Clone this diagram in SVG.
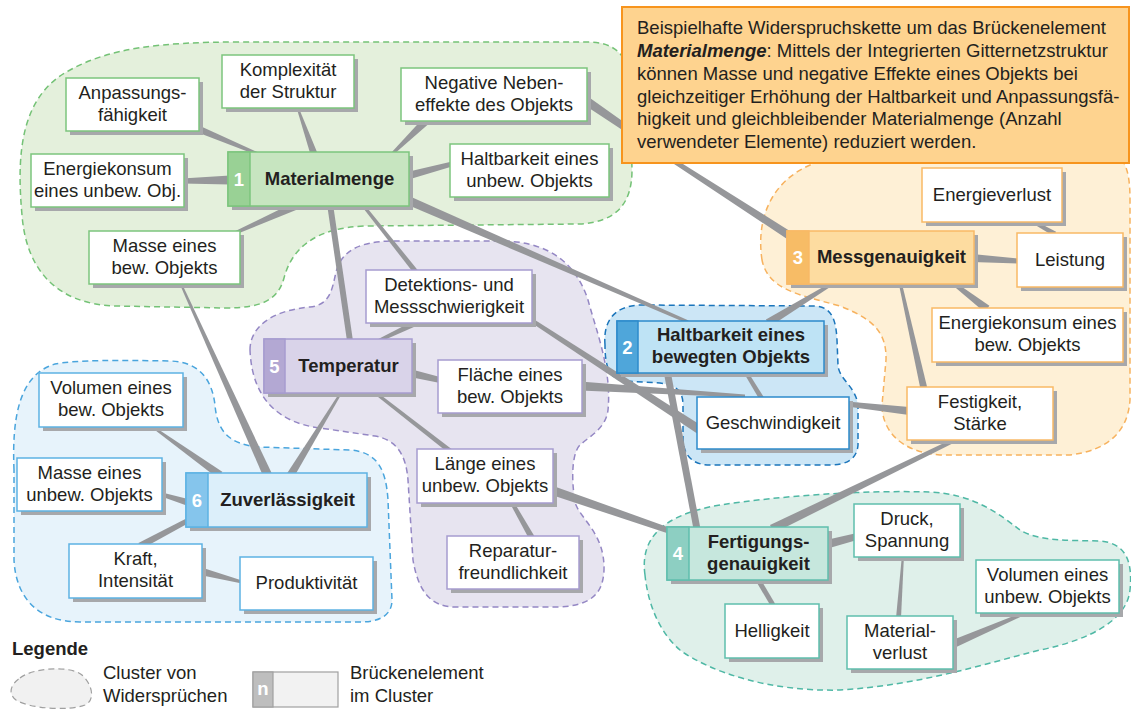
<svg xmlns="http://www.w3.org/2000/svg" width="1131" height="709" viewBox="0 0 1131 709">
  <style>
    .t{font-family:"Liberation Sans",Arial,Helvetica,sans-serif;font-size:18.5px;fill:#231F20;text-anchor:middle}
    .l{text-anchor:start}
    .b{font-weight:bold}
    .num{font-family:"Liberation Sans",Arial,sans-serif;font-size:18.5px;font-weight:bold;fill:#fff;text-anchor:middle}
    .sh{fill:#A7A8AB}
    .con polygon{fill:#96979A}
    .blob{stroke-width:1.5;stroke-dasharray:6 4}
    .c1{fill:#fff;stroke:#7CC57D;stroke-width:1.5}
    .c2{fill:#fff;stroke:#2D8BCB;stroke-width:1.5}
    .c3{fill:#fff;stroke:#F9B966;stroke-width:1.5}
    .c4{fill:#fff;stroke:#5FBEAD;stroke-width:1.5}
    .c5{fill:#fff;stroke:#A79CCF;stroke-width:1.5}
    .c6{fill:#fff;stroke:#5DB2E3;stroke-width:1.5}
  </style>

  <!-- cluster areas -->
  <g id="clusters">
    <path id="cluster-1" class="blob" fill="#E4F0DC" stroke="#74C276" d="M22,215 C16,150 22,95 70,70 C110,48 160,42 240,42 L588,42 C614,42 628,55 630,80 L632,170 C632,205 615,222 580,224 L365,226 C315,228 292,248 284,278 C278,300 262,308 225,308 L115,306 C55,304 26,268 22,215 Z"/>
    <path id="cluster-5" class="blob" fill="#E7E4F0" stroke="#9487C4" d="M250,350 C250,325 275,310 310,307 C330,305 332,290 336,272 C342,250 360,242 390,241 L500,241 C545,241 575,260 588,300 C596,330 612,370 608,410 C606,428 590,436 580,445 C570,455 572,490 576,505 C582,520 605,535 604,570 C603,595 590,605 560,607 L455,607 C430,607 418,590 413,560 L408,480 C406,455 397,440 375,436 L320,428 C280,423 252,400 250,350 Z"/>
    <path id="cluster-6" class="blob" fill="#E7F3FB" stroke="#4AA5DD" d="M14,470 C12,420 18,375 55,364 C75,360 120,360 170,361 C200,362 212,380 215,405 C217,430 228,444 258,447 L350,450 C378,452 386,470 388,500 L392,600 C392,615 380,622 360,622 L80,622 C40,622 16,600 14,560 Z"/>
    <path id="cluster-3" class="blob" fill="#FEF0D6" stroke="#F7B25E" d="M762,260 C756,220 770,180 815,163 L1100,150 C1125,150 1130,170 1130,200 L1130,400 C1128,430 1110,450 1070,455 L940,455 C900,452 882,430 882,405 L886,360 C887,330 870,318 840,306 C800,295 768,290 762,260 Z"/>
    <path id="cluster-2" class="blob" fill="#CCE6F6" stroke="#1B75BB" d="M605,345 C603,320 615,306 640,305 L815,306 C832,307 836,320 837,340 L838,365 C839,380 855,385 858,405 L858,445 C857,460 845,465 830,465 L710,465 C692,465 684,455 683,440 L683,405 C683,390 675,385 660,383 L625,381 C610,380 605,368 605,345 Z"/>
    <path id="cluster-4" class="blob" fill="#DFF0EA" stroke="#4FB8A5" d="M645,575 C640,540 660,515 720,505 C780,496 860,490 930,492 C975,494 1000,515 1020,530 C1040,542 1070,540 1100,541 C1125,543 1133,560 1130,590 C1127,620 1090,640 1040,650 C980,665 920,685 840,690 C770,692 710,672 680,650 C660,633 648,605 645,575 Z"/>
  </g>

  <!-- tapered links between elements -->
  <g id="connectors" class="con">
    <polygon points="194.6,131.2 257.4,155.4 258.6,152.6 197.4,124.8"/>
    <polygon points="296.1,106.3 310.7,155.2 317.3,152.8 297.9,105.7"/>
    <polygon points="425.2,116.1 391,152.9 393,155.1 430.8,121.9"/>
    <polygon points="182,178.5 230,175.5 230,184.5 182,183.5"/>
    <polygon points="452,161.5 407,172 407,180 452,166.5"/>
    <polygon points="235.6,234.4 301.6,207.7 298.4,200.3 234.4,231.6"/>
    <polygon points="179.1,282.4 263.9,477.9 272.1,474.1 180.9,281.6"/>
    <polygon points="327,204 347,341 353,341 333,204"/>
    <polygon points="360.8,205 414,273.6 418,270.4 363.2,203.1"/>
    <polygon points="403.2,203.1 687.4,323.4 688.6,320.6 406.8,194.9"/>
    <polygon points="582.5,103.7 678.6,167.1 787.8,239.4 792.2,232.6 681.4,162.9 587.5,96.3"/>
    <polygon points="834.2,280.7 765.9,319.6 770.1,326.4 835.8,283.3"/>
    <polygon points="972,254 1019,258.5 1019,263.5 972,262"/>
    <polygon points="1029.4,221.4 1053.9,236.3 1056.1,231.8 1030.6,218.6"/>
    <polygon points="951.8,284.6 984.6,312.2 989.4,305.8 954.2,281.4"/>
    <polygon points="898.5,282.3 920.6,389.8 927.4,388.2 901.5,281.7"/>
    <polygon points="954.1,438.2 770,525 774,533 955.9,441.8"/>
    <polygon points="580,381.5 745,394.5 745,397.5 580,390.5"/>
    <polygon points="847,401.5 909,407 909,415 847,406.5"/>
    <polygon points="743.3,372 759.9,400.3 764.1,397.7 746.7,370"/>
    <polygon points="663.6,371.7 693.6,529.7 700.4,528.3 670.4,370.3"/>
    <polygon points="526.9,319.7 697.5,433.8 702.5,426.2 529.1,316.3"/>
    <polygon points="410,369 440,377 440,383 410,377"/>
    <polygon points="378.6,342.4 421.3,323.7 418.7,318.3 377.4,339.6"/>
    <polygon points="372.1,392.2 448.5,453 451.5,449 373.9,389.8"/>
    <polygon points="341.1,390.5 286.6,473.9 293.4,478.1 342.9,391.5"/>
    <polygon points="509.3,502 529.4,539.5 534.6,536.5 512.7,500"/>
    <polygon points="549.5,494.3 669,533.8 671,528.2 552.5,485.7"/>
    <polygon points="149.4,425.8 217.7,478.3 222.3,471.7 150.6,424.2"/>
    <polygon points="160,492 188,499 188,506 160,496"/>
    <polygon points="185.8,518.8 138.4,542.9 141.6,549.1 188.2,523.2"/>
    <polygon points="200,567 242,580.5 242,583.5 200,575"/>
    <polygon points="826,540 857,533 857,540 826,549"/>
    <polygon points="754.9,579.3 770.9,606.3 775.1,603.7 759.1,576.7"/>
    <polygon points="902,555 896,618 901,618 904,555"/>
    <polygon points="952.6,648.7 1025.6,614.4 1024.4,611.6 949.4,641.3"/>
  </g>

  <!-- cluster 1 -->
  <g id="n-anpassung"><rect class="sh" x="70" y="82" width="133" height="53"/><rect class="c1" x="66" y="78" width="133" height="53"/><text class="t"><tspan x="132.5" y="98.5">Anpassungs-</tspan><tspan x="132.5" y="120.5">fähigkeit</tspan></text></g>
  <g id="n-komplexitaet"><rect class="sh" x="226" y="59" width="132" height="53"/><rect class="c1" x="222" y="55" width="132" height="53"/><text class="t"><tspan x="288" y="75.5">Komplexität</tspan><tspan x="288" y="97.5">der Struktur</tspan></text></g>
  <g id="n-nebeneffekte"><rect class="sh" x="405" y="72" width="186" height="53"/><rect class="c1" x="401" y="68" width="186" height="53"/><text class="t"><tspan x="494" y="88.5">Negative Neben-</tspan><tspan x="494" y="110.5">effekte des Objekts</tspan></text></g>
  <g id="n-energie-unbew"><rect class="sh" x="35" y="158" width="153" height="53"/><rect class="c1" x="31" y="154" width="153" height="53"/><text class="t"><tspan x="107.5" y="174.5">Energiekonsum</tspan><tspan x="107.5" y="196.5">eines unbew. Obj.</tspan></text></g>
  <g id="n-materialmenge"><rect class="sh" x="232" y="156" width="181" height="54"/><rect fill="#C7E5C0" stroke="#7CC57D" stroke-width="1.5" x="228" y="152" width="181" height="54"/><rect fill="#99D195" stroke="#7CC57D" stroke-width="1.5" x="228" y="152" width="22" height="54"/><text class="num" x="239" y="185.5">1</text><text class="t b" x="329.5" y="184.5">Materialmenge</text></g>
  <g id="n-haltbarkeit-unbew"><rect class="sh" x="454" y="148" width="159" height="53"/><rect class="c1" x="450" y="144" width="159" height="53"/><text class="t"><tspan x="529.5" y="164.5">Haltbarkeit eines</tspan><tspan x="529.5" y="186.5">unbew. Objekts</tspan></text></g>
  <g id="n-masse-bew"><rect class="sh" x="93" y="235" width="151" height="53"/><rect class="c1" x="89" y="231" width="151" height="53"/><text class="t"><tspan x="164.5" y="251.5">Masse eines</tspan><tspan x="164.5" y="273.5">bew. Objekts</tspan></text></g>

  <!-- cluster 2 -->
  <g id="n-haltbarkeit-bew"><rect class="sh" x="621" y="325" width="207" height="52"/><rect fill="#BEE3F5" stroke="#2D8BCB" stroke-width="1.5" x="617" y="321" width="207" height="52"/><rect fill="#4FA6DA" stroke="#2D8BCB" stroke-width="1.5" x="617" y="321" width="21" height="52"/><text class="num" x="627.5" y="353.5">2</text><text class="t b"><tspan x="731" y="341">Haltbarkeit eines</tspan><tspan x="731" y="363">bewegten Objekts</tspan></text></g>
  <g id="n-geschwindigkeit"><rect class="sh" x="701" y="401" width="152" height="52"/><rect class="c2" x="697" y="397" width="152" height="52"/><text class="t" x="773" y="428.5">Geschwindigkeit</text></g>

  <!-- cluster 3 -->
  <g id="n-energieverlust"><rect class="sh" x="926" y="172" width="140" height="54"/><rect class="c3" x="922" y="168" width="140" height="54"/><text class="t" x="992" y="200.5">Energieverlust</text></g>
  <g id="n-messgenauigkeit"><rect class="sh" x="791" y="235" width="187" height="53"/><rect fill="#FDDCA0" stroke="#F9B966" stroke-width="1.5" x="787" y="231" width="187" height="53"/><rect fill="#F7BC66" stroke="#F9B966" stroke-width="1.5" x="787" y="231" width="22" height="53"/><text class="num" x="798" y="264">3</text><text class="t b" x="891.5" y="263">Messgenauigkeit</text></g>
  <g id="n-leistung"><rect class="sh" x="1021" y="237" width="106" height="54"/><rect class="c3" x="1017" y="233" width="106" height="54"/><text class="t" x="1070" y="265.5">Leistung</text></g>
  <g id="n-energie-bew"><rect class="sh" x="936" y="312" width="191" height="54"/><rect class="c3" x="932" y="308" width="191" height="54"/><text class="t"><tspan x="1027.5" y="329">Energiekonsum eines</tspan><tspan x="1027.5" y="351">bew. Objekts</tspan></text></g>
  <g id="n-festigkeit"><rect class="sh" x="911" y="391" width="146" height="53"/><rect class="c3" x="907" y="387" width="146" height="53"/><text class="t"><tspan x="980" y="407.5">Festigkeit,</tspan><tspan x="980" y="429.5">Stärke</tspan></text></g>

  <!-- cluster 5 -->
  <g id="n-detektion"><rect class="sh" x="370" y="274" width="166" height="53"/><rect class="c5" x="366" y="270" width="166" height="53"/><text class="t"><tspan x="449" y="290.5">Detektions- und</tspan><tspan x="449" y="312.5">Messschwierigkeit</tspan></text></g>
  <g id="n-temperatur"><rect class="sh" x="268" y="343" width="148" height="54"/><rect fill="#D9D3E9" stroke="#A79CCF" stroke-width="1.5" x="264" y="339" width="148" height="54"/><rect fill="#B3A8D3" stroke="#A79CCF" stroke-width="1.5" x="264" y="339" width="21" height="54"/><text class="num" x="274.5" y="372.5">5</text><text class="t b" x="348.5" y="371.5">Temperatur</text></g>
  <g id="n-flaeche"><rect class="sh" x="442" y="364" width="144" height="53"/><rect class="c5" x="438" y="360" width="144" height="53"/><text class="t"><tspan x="510" y="380.5">Fläche eines</tspan><tspan x="510" y="402.5">bew. Objekts</tspan></text></g>
  <g id="n-laenge"><rect class="sh" x="421" y="453" width="136" height="54"/><rect class="c5" x="417" y="449" width="136" height="54"/><text class="t"><tspan x="485" y="470">Länge eines</tspan><tspan x="485" y="492">unbew. Objekts</tspan></text></g>
  <g id="n-reparatur"><rect class="sh" x="451" y="540" width="132" height="53"/><rect class="c5" x="447" y="536" width="132" height="53"/><text class="t"><tspan x="513" y="556.5">Reparatur-</tspan><tspan x="513" y="578.5">freundlichkeit</tspan></text></g>

  <!-- cluster 6 -->
  <g id="n-volumen-bew"><rect class="sh" x="43" y="377" width="144" height="54"/><rect class="c6" x="39" y="373" width="144" height="54"/><text class="t"><tspan x="111" y="394">Volumen eines</tspan><tspan x="111" y="416">bew. Objekts</tspan></text></g>
  <g id="n-masse-unbew"><rect class="sh" x="21" y="462" width="145" height="53"/><rect class="c6" x="17" y="458" width="145" height="53"/><text class="t"><tspan x="89.5" y="478.5">Masse eines</tspan><tspan x="89.5" y="500.5">unbew. Objekts</tspan></text></g>
  <g id="n-zuverlaessigkeit"><rect class="sh" x="190" y="477" width="181" height="54"/><rect fill="#DCEFFA" stroke="#5DB2E3" stroke-width="1.5" x="186" y="473" width="181" height="54"/><rect fill="#85C5EC" stroke="#5DB2E3" stroke-width="1.5" x="186" y="473" width="22" height="54"/><text class="num" x="197" y="506.5">6</text><text class="t b" x="287.5" y="505.5">Zuverlässigkeit</text></g>
  <g id="n-kraft"><rect class="sh" x="73" y="548" width="133" height="54"/><rect class="c6" x="69" y="544" width="133" height="54"/><text class="t"><tspan x="135.5" y="565">Kraft,</tspan><tspan x="135.5" y="587">Intensität</tspan></text></g>
  <g id="n-produktivitaet"><rect class="sh" x="244" y="561" width="133" height="53"/><rect class="c6" x="240" y="557" width="133" height="53"/><text class="t" x="306.5" y="589">Produktivität</text></g>

  <!-- cluster 4 -->
  <g id="n-fertigung"><rect class="sh" x="671" y="531" width="161" height="53"/><rect fill="#C6E7DD" stroke="#5FBEAD" stroke-width="1.5" x="667" y="527" width="161" height="53"/><rect fill="#8DCFC2" stroke="#5FBEAD" stroke-width="1.5" x="667" y="527" width="22" height="53"/><text class="num" x="678" y="560">4</text><text class="t b"><tspan x="758.5" y="547.5">Fertigungs-</tspan><tspan x="758.5" y="569.5">genauigkeit</tspan></text></g>
  <g id="n-druck"><rect class="sh" x="858" y="508" width="106" height="53"/><rect class="c4" x="854" y="504" width="106" height="53"/><text class="t"><tspan x="907" y="524.5">Druck,</tspan><tspan x="907" y="546.5">Spannung</tspan></text></g>
  <g id="n-volumen-unbew"><rect class="sh" x="980" y="564" width="143" height="53"/><rect class="c4" x="976" y="560" width="143" height="53"/><text class="t"><tspan x="1047.5" y="580.5">Volumen eines</tspan><tspan x="1047.5" y="602.5">unbew. Objekts</tspan></text></g>
  <g id="n-helligkeit"><rect class="sh" x="729" y="608" width="94" height="54"/><rect class="c4" x="725" y="604" width="94" height="54"/><text class="t" x="772" y="636.5">Helligkeit</text></g>
  <g id="n-materialverlust"><rect class="sh" x="851" y="620" width="106" height="53"/><rect class="c4" x="847" y="616" width="106" height="53"/><text class="t"><tspan x="900" y="636.5">Material-</tspan><tspan x="900" y="658.5">verlust</tspan></text></g>

  <!-- example chain note -->
  <g id="note">
    <rect x="622" y="7" width="507" height="156" fill="#FED38F" stroke="#F7941D" stroke-width="2"/>
    <text class="t l">
      <tspan x="637" y="34">Beispielhafte Widerspruchskette um das Brückenelement</tspan>
      <tspan x="637" y="57" font-weight="bold" font-style="italic">Materialmenge</tspan><tspan>: Mittels der Integrierten Gitternetzstruktur</tspan>
      <tspan x="637" y="80">können Masse und negative Effekte eines Objekts bei</tspan>
      <tspan x="637" y="102.5">gleichzeitiger Erhöhung der Haltbarkeit und Anpassungsfä-</tspan>
      <tspan x="637" y="125">higkeit und gleichbleibender Materialmenge (Anzahl</tspan>
      <tspan x="637" y="148">verwendeter Elemente) reduziert werden.</tspan>
    </text>
  </g>

  <!-- legend -->
  <g id="legend">
    <text class="t l b" x="12" y="655" font-size="17.5">Legende</text>
    <path d="M20,678 C32,668 70,665 82,675 C92,684 96,700 85,705 C70,711 30,709 16,700 C8,694 10,685 20,678 Z" fill="#F1F1F1" stroke="#A0A0A0" stroke-width="1.2" stroke-dasharray="6 4"/>
    <text class="t l"><tspan x="103" y="679">Cluster von</tspan><tspan x="103" y="702">Widersprüchen</tspan></text>
    <rect x="253" y="672" width="85" height="35" fill="#F2F2F2" stroke="#A0A0A0" stroke-width="1.2"/>
    <rect x="253" y="672" width="20" height="35" fill="#BEBEBE" stroke="#A0A0A0" stroke-width="1.2"/>
    <text class="num" x="263" y="695" font-size="13">n</text>
    <text class="t l"><tspan x="350" y="679">Brückenelement</tspan><tspan x="350" y="702">im Cluster</tspan></text>
  </g>
</svg>
